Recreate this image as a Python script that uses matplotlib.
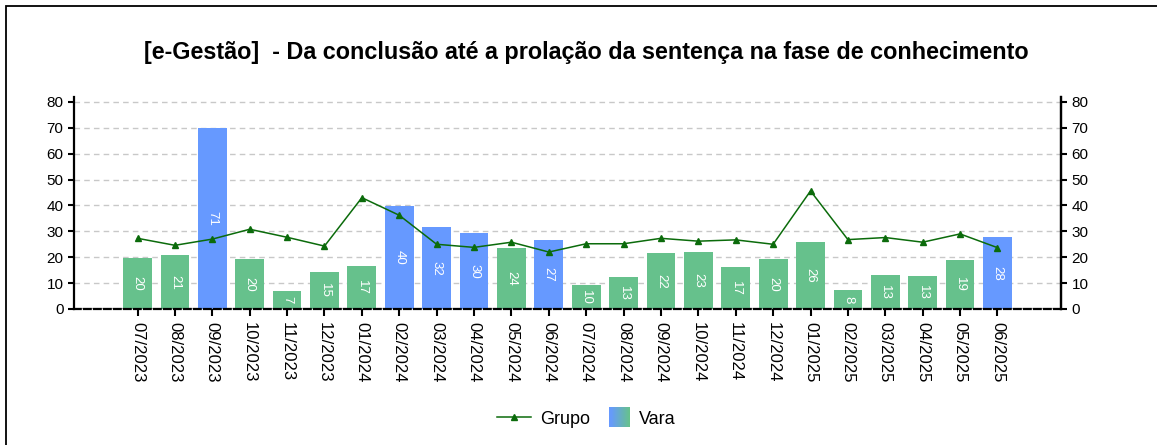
import numpy as np
import matplotlib
matplotlib.use("Agg")
import matplotlib.pyplot as plt
from matplotlib.patches import Rectangle
from matplotlib.lines import Line2D
from matplotlib.legend_handler import HandlerBase
from matplotlib.colors import to_rgb

DPI = 100
W, H = 1157, 445

plt.rcParams['font.family'] = ['Liberation Sans', 'DejaVu Sans']

months = ['07/2023', '08/2023', '09/2023', '10/2023', '11/2023', '12/2023',
          '01/2024', '02/2024', '03/2024', '04/2024', '05/2024', '06/2024',
          '07/2024', '08/2024', '09/2024', '10/2024', '11/2024', '12/2024',
          '01/2025', '02/2025', '03/2025', '04/2025', '05/2025', '06/2025']
vara = [19.7, 20.9, 69.8, 19.3, 7.0, 14.3, 16.6, 39.8, 31.7, 29.4, 23.6, 26.7,
        9.3, 12.4, 21.6, 22.0, 16.2, 19.3, 25.9, 7.3, 13.1, 12.8, 18.9, 27.8]
vara_labels = ['20', '21', '71', '20', '7', '15', '17', '40', '32', '30', '24', '27',
               '10', '13', '22', '23', '17', '20', '26', '8', '13', '13', '19', '28']
grupo = [27.3, 24.6, 27.0, 30.8, 27.7, 24.3, 43.0, 36.2, 25.0, 23.8, 25.8, 22.0,
         25.2, 25.2, 27.3, 26.2, 26.7, 25.0, 45.6, 26.8, 27.6, 25.8, 29.0, 23.7]

GREEN = '#66c18c'
BLUE = '#6699ff'
LINE = '#0b6b0b'


class GradientHandler(HandlerBase):
    # the "Vara" key is a small blue-to-green square
    def create_artists(self, legend, orig_handle, xdescent, ydescent,
                       width, height, fontsize, trans):
        c1, c2 = np.array(to_rgb(BLUE)), np.array(to_rgb(GREEN))
        n = 20
        h = height * 1.6
        w = h
        x0 = width - w - xdescent
        y0 = -ydescent - (h - height) / 2
        arts = []
        for i in range(n):
            c = c1 + (c2 - c1) * i / (n - 1)
            r = Rectangle((x0 + w * i / n, y0), w / n * 1.05, h,
                          facecolor=c, edgecolor='none', transform=trans)
            arts.append(r)
        return arts


fig = plt.figure(figsize=(W / DPI, H / DPI), dpi=DPI)
fig.patches.append(Rectangle((6 / W, -0.1), 1.2, 1 - 6 / H + 0.1, transform=fig.transFigure,
                             fill=False, edgecolor='black', linewidth=1.3))

ax = fig.add_axes([74 / W, 1 - 309 / H, (1061 - 74) / W, (309 - 96.7) / H])
x = np.arange(len(months))
colors = [BLUE if v > g else GREEN for v, g in zip(vara, grupo)]
ax.bar(x, vara, width=0.77, color=colors, zorder=2)
for xi, v, lab in zip(x, vara, vara_labels):
    ax.text(xi, v / 2, lab, rotation=270, ha='center', va='center',
            color='white', fontsize=9.5, zorder=3)
ax.plot(x, grupo, color=LINE, linewidth=1.1, marker='^', markersize=4, zorder=4)
ax.axhline(0, color='#b0b0b0', linewidth=1.6, zorder=1)

ax.set_xlim(-1.7, len(months) - 1 + 1.7)
ax.set_ylim(0, 82)
ax.set_yticks(range(0, 81, 10))
ax.set_xticks(x)
ax.set_xticklabels(months, rotation=270, fontsize=12)
ax.tick_params(axis='y', labelsize=11, length=4, width=1.5, direction='out')
ax.tick_params(axis='x', length=5, width=1.5, pad=4)
ax.grid(axis='y', linestyle=(0, (4, 3)), color='#c8c8c8', linewidth=1, zorder=0)
ax.spines['top'].set_visible(False)
ax.spines['left'].set_linewidth(1.6)
ax.spines['right'].set_linewidth(1.6)
ax.spines['bottom'].set_linewidth(1.6)
ax.spines['bottom'].set_linestyle((0, (3, 1.5)))

ax2 = ax.twinx()
ax2.set_ylim(ax.get_ylim())
ax2.set_yticks(range(0, 81, 10))
ax2.tick_params(axis='y', labelsize=11, length=4, width=1.5)
ax2.spines['top'].set_visible(False)
ax2.spines['right'].set_linewidth(1.6)
ax2.spines['left'].set_visible(False)
ax2.spines['bottom'].set_visible(False)

fig.text(586 / W, 1 - 53 / H,
         '[e-Gestão]  - Da conclusão até a prolação da sentença na fase de conhecimento',
         ha='center', va='center', fontsize=16.8, fontweight='bold')

h_line = Line2D([], [], color=LINE, linewidth=1.1, marker='^', markersize=4)
h_bar = Rectangle((0, 0), 1, 1)
fig.legend([h_line, h_bar], ['Grupo', 'Vara'], loc='center', bbox_to_anchor=(586 / W, 1 - 419 / H),
           ncol=2, frameon=False, fontsize=13, handler_map={Rectangle: GradientHandler()},
           handlelength=1.9, columnspacing=0.3, handletextpad=0.5)

fig.savefig('out.png', dpi=DPI)
